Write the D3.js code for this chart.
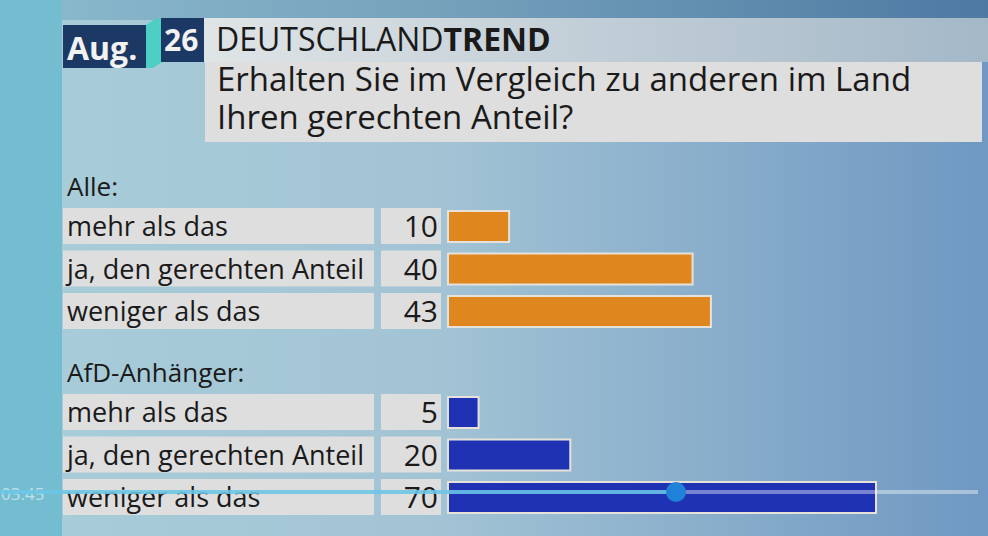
<!DOCTYPE html>
<html>
<head>
<meta charset="utf-8">
<title>DeutschlandTrend</title>
<script src="https://d3js.org/d3.v7.min.js"></script>
<style>
  html, body { margin: 0; padding: 0; overflow: hidden; }
  svg { display: block; font-family: "Open Sans", "Noto Sans", sans-serif; }
</style>
</head>
<body>
<div id="chart"></div>
<script>
// data
var month = "Aug.";
var day = "26";
var question = ["Erhalten Sie im Vergleich zu anderen im Land", "Ihren gerechten Anteil?"];
var categories = ["mehr als das", "ja, den gerechten Anteil", "weniger als das"];
var groupNames = ["Alle:", "AfD-Anhänger:"];
var valuesAlle = [10, 40, 43];
var valuesAfd = [5, 20, 70];
var groupColors = ["#e0861f", "#1f32b4"];

var width = 988, height = 536;

var svg = d3.select("#chart").append("svg")
    .attr("width", width)
    .attr("height", height);

var defs = svg.append("defs");
var bg = defs.append("linearGradient").attr("id", "bg").attr("x1", 0).attr("x2", 1).attr("y1", 0).attr("y2", 0);
bg.append("stop").attr("offset", "0%").attr("stop-color", "#a9cdd9");
bg.append("stop").attr("offset", "45%").attr("stop-color", "#a2c3d4");
bg.append("stop").attr("offset", "100%").attr("stop-color", "#6f98c2");
var topband = defs.append("linearGradient").attr("id", "topband").attr("x1", 0).attr("x2", 1).attr("y1", 0).attr("y2", 0);
topband.append("stop").attr("offset", "0%").attr("stop-color", "#7fb2c8");
topband.append("stop").attr("offset", "100%").attr("stop-color", "#3f6c95");
var strip = defs.append("linearGradient").attr("id", "strip").attr("x1", 0).attr("x2", 1).attr("y1", 0).attr("y2", 0);
strip.append("stop").attr("offset", "0%").attr("stop-color", "#dfe4e6");
strip.append("stop").attr("offset", "100%").attr("stop-color", "#a4b8c8");

// background
svg.append("rect").attr("width", width).attr("height", height).attr("fill", "url(#bg)");
svg.append("rect").attr("width", width).attr("height", 20).attr("fill", "url(#topband)").attr("opacity", 0.7);
svg.append("rect").attr("width", 62).attr("height", height).attr("fill", "#74bcd0");

// header
svg.append("rect").attr("x", 203).attr("y", 18).attr("width", width - 203).attr("height", 44).attr("fill", "url(#strip)");
svg.append("rect").attr("x", 205).attr("y", 62).attr("width", 777).attr("height", 80).attr("fill", "#dedede");
svg.append("polygon")
    .attr("points", "146,25 155,19 162,19 162,62 153,68 146,68")
    .attr("fill", "#4ecfc4");
svg.append("rect").attr("x", 63).attr("y", 25).attr("width", 83).attr("height", 43).attr("fill", "#1c3864");
svg.append("rect").attr("x", 161).attr("y", 18).attr("width", 43).attr("height", 44).attr("fill", "#1c3864");
svg.append("text").attr("x", 67).attr("y", 60).attr("fill", "#f2f2f2")
    .style("font-size", "32px").style("font-weight", "bold").text(month);
svg.append("text").attr("x", 164).attr("y", 51).attr("fill", "#f2f2f2")
    .style("font-size", "30px").style("font-weight", "bold").text(day);
var brand = svg.append("text").attr("x", 216).attr("y", 51).attr("fill", "#1a1a1a").style("font-size", "32px");
brand.append("tspan").text("DEUTSCHLAND");
brand.append("tspan").style("font-weight", "bold").text("TREND");
svg.append("text")
    .attr("fill", "#1a1a1a")
    .style("font-size", "33px")
    .selectAll("tspan").data(question).enter().append("tspan")
    .attr("x", 217)
    .attr("y", function(d, i) { return 91 + i * 38; })
    .text(function(d) { return d; });

// scales
var x = d3.scaleLinear().domain([0, 70]).range([448, 876]);
var groupTops = [208, 394];
var groupData = [valuesAlle, valuesAfd];

groupData.forEach(function(values, gi) {
    var y = d3.scaleBand()
        .domain(categories)
        .range([groupTops[gi], groupTops[gi] + 121])
        .paddingInner(0.153);

    var g = svg.append("g");
    g.append("text")
        .attr("x", 67)
        .attr("y", groupTops[gi] - 12)
        .attr("fill", "#1a1a1a")
        .style("font-size", "26px")
        .text(groupNames[gi]);

    var rows = g.selectAll(".row")
        .data(categories.map(function(c, i) { return {cat: c, value: values[i]}; }))
        .enter().append("g")
        .attr("class", "row");

    rows.append("rect")
        .attr("x", 63)
        .attr("y", function(d) { return y(d.cat); })
        .attr("width", 311)
        .attr("height", y.bandwidth())
        .attr("fill", "#dedede");
    rows.append("rect")
        .attr("x", 381)
        .attr("y", function(d) { return y(d.cat); })
        .attr("width", 60)
        .attr("height", y.bandwidth())
        .attr("fill", "#dedede");
    rows.append("text")
        .attr("x", 67)
        .attr("y", function(d) { return y(d.cat) + y.bandwidth() / 2 + 10; })
        .attr("fill", "#1a1a1a")
        .style("font-size", "27px")
        .text(function(d) { return d.cat; });
    rows.append("text")
        .attr("x", 438)
        .attr("y", function(d) { return y(d.cat) + y.bandwidth() / 2 + 11; })
        .attr("text-anchor", "end")
        .attr("fill", "#1a1a1a")
        .style("font-size", "30px")
        .text(function(d) { return d.value; });
    rows.append("rect")
        .attr("x", x(0))
        .attr("y", function(d) { return y(d.cat) + 3; })
        .attr("width", function(d) { return x(d.value) - x(0); })
        .attr("height", y.bandwidth() - 5)
        .attr("fill", groupColors[gi])
        .attr("stroke", "#e6e2da")
        .attr("stroke-width", 2);
});

// video player overlay
var player = svg.append("g");
player.append("text").attr("x", 1).attr("y", 500).attr("fill", "#ffffff").attr("opacity", 0.55)
    .style("font-size", "17px").text("03:45");
player.append("rect").attr("x", 0).attr("y", 490).attr("width", 978).attr("height", 4)
    .attr("fill", "#ffffff").attr("opacity", 0.4);
player.append("rect").attr("x", 0).attr("y", 490).attr("width", 676).attr("height", 4)
    .attr("fill", "#5cc0e4").attr("opacity", 0.8);
player.append("circle").attr("cx", 676).attr("cy", 492).attr("r", 10).attr("fill", "#1f82d8");
</script>
</body>
</html>
